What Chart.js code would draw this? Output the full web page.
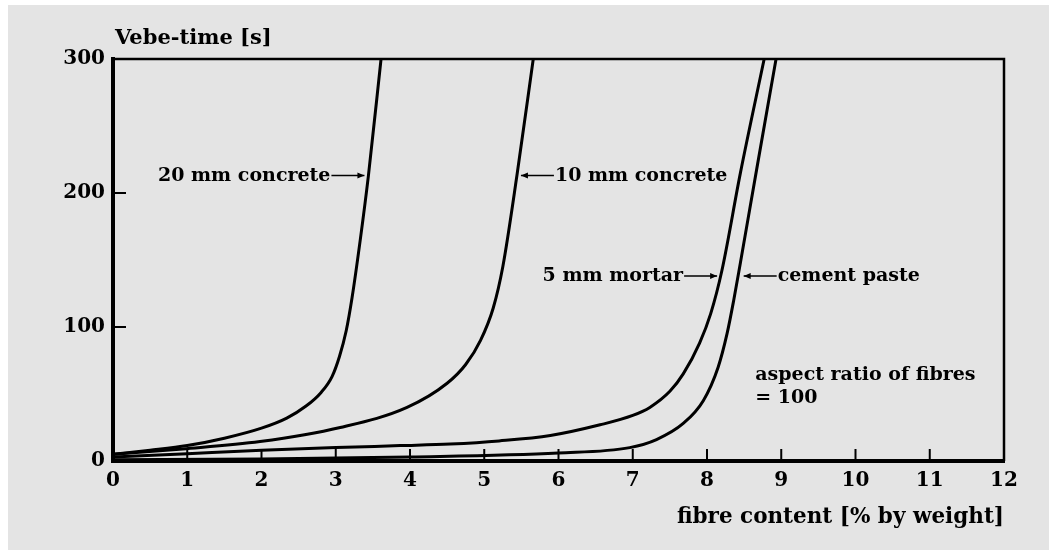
<!DOCTYPE html>
<html>
<head>
<meta charset="utf-8">
<script src="https://cdn.jsdelivr.net/npm/chart.js@4.4.0/dist/chart.umd.min.js"></script>
<style>
  body { margin: 0; background: #fff; }
  #vebe { position: absolute; left: 8px; top: 5px; background: #e4e4e4; }
</style>
</head>
<body>
<canvas id="vebe" width="1041" height="545"></canvas>
<script>
// Vebe-time against fibre content for four mixes
const xTicks = [0, 1, 2, 3, 4, 5, 6, 7, 8, 9, 10, 11, 12];
const yTicks = [0, 100, 200, 300];

const concrete20X = [0, 0.5, 1, 1.5, 2, 2.34, 2.6, 2.8, 2.95, 3.05, 3.14, 3.22, 3.33, 3.44, 3.61];
const concrete20Y = [5, 8, 11.5, 17, 24.5, 32, 41, 51, 63, 78, 97, 122, 165, 213, 300];

const concrete10X = [0, 0.94, 1.98, 3.06, 3.96, 4.5, 4.75, 4.95, 5.12, 5.25, 5.44, 5.66];
const concrete10Y = [5, 9, 14.5, 25, 40, 58, 72, 90, 114, 145, 213, 300];

const mortar5X = [0, 1, 2, 3, 3.87, 4.54, 5.2, 5.89, 6.56, 7.0, 7.23, 7.5, 7.68, 7.9, 8.05, 8.2, 8.45, 8.77];
const mortar5Y = [3, 5.5, 8, 10, 11.5, 12.7, 15, 19, 27, 34, 40, 52, 65, 88, 110, 142, 215, 300];

const pasteX = [0, 2, 4, 6, 6.96, 7.32, 7.68, 7.95, 8.15, 8.27, 8.36, 8.45, 8.67, 8.93];
const pasteY = [1, 1.5, 3, 6, 10, 16, 28, 45, 70, 95, 120, 148, 218, 300];

const seriesNames = ['20 mm concrete', '10 mm concrete', '5 mm mortar', 'cement paste'];

const FONT = "'DejaVu Serif', serif";

const toPoints = (xs, ys) => xs.map((x, i) => ({ x: x, y: ys[i] }));

// label text, point on the curve the arrow touches, side the text sits on
const callouts = [
  { text: seriesNames[0], at: [3.44, 213], side: 'left' },
  { text: seriesNames[1], at: [5.44, 213], side: 'right' },
  { text: seriesNames[2], at: [8.19, 138], side: 'left' },
  { text: seriesNames[3], at: [8.44, 138], side: 'right' }
];

const frame = {
  id: 'frame',
  afterDatasetsDraw(chart) {
    const { ctx, chartArea: a, scales: { x, y } } = chart;
    ctx.save();
    ctx.strokeStyle = '#000';
    ctx.lineWidth = 2.5;
    ctx.beginPath();
    ctx.moveTo(a.left, a.top);
    ctx.lineTo(a.right, a.top);
    ctx.lineTo(a.right, a.bottom);
    ctx.stroke();

    // inward tick marks
    ctx.lineWidth = 2;
    ctx.beginPath();
    yTicks.slice(1, -1).forEach(v => {
      const py = y.getPixelForValue(v);
      ctx.moveTo(a.left, py);
      ctx.lineTo(a.left + 13, py);
    });
    xTicks.slice(1, -1).forEach(v => {
      const px = x.getPixelForValue(v);
      ctx.moveTo(px, a.bottom);
      ctx.lineTo(px, a.bottom - 12);
    });
    ctx.stroke();

    // axis heading above the y axis
    ctx.fillStyle = '#000';
    ctx.font = 'bold 21px ' + FONT;
    ctx.textAlign = 'left';
    ctx.textBaseline = 'alphabetic';
    ctx.fillText('Vebe-time [s]', a.left + 2, a.top - 15);

    // curve labels with arrows
    ctx.font = 'bold 19px ' + FONT;
    ctx.textBaseline = 'middle';
    ctx.lineWidth = 1.5;
    callouts.forEach(c => {
      const tx = x.getPixelForValue(c.at[0]);
      const ty = y.getPixelForValue(c.at[1]);
      const dir = c.side === 'left' ? -1 : 1;
      const start = tx + dir * 4;
      const end = tx + dir * 37;
      ctx.beginPath();
      ctx.moveTo(start, ty);
      ctx.lineTo(end, ty);
      ctx.stroke();
      ctx.beginPath();
      ctx.moveTo(start, ty);
      ctx.lineTo(start + dir * 7, ty - 3);
      ctx.lineTo(start + dir * 7, ty + 3);
      ctx.closePath();
      ctx.fill();
      ctx.textAlign = c.side === 'left' ? 'right' : 'left';
      ctx.fillText(c.text, end + dir * 1, ty);
    });

    ctx.textAlign = 'left';
    ctx.fillText('aspect ratio of fibres', x.getPixelForValue(8.65), y.getPixelForValue(64));
    ctx.fillText('= 100', x.getPixelForValue(8.65), y.getPixelForValue(47));
    ctx.restore();
  }
};

const curve = (label, xs, ys) => ({
  label: label,
  data: toPoints(xs, ys),
  borderColor: '#000',
  borderWidth: 3,
  pointRadius: 0,
  fill: false,
  cubicInterpolationMode: 'monotone'
});

new Chart(document.getElementById('vebe'), {
  type: 'line',
  data: {
    datasets: [
      curve(seriesNames[0], concrete20X, concrete20Y),
      curve(seriesNames[1], concrete10X, concrete10Y),
      curve(seriesNames[2], mortar5X, mortar5Y),
      curve(seriesNames[3], pasteX, pasteY)
    ]
  },
  plugins: [frame],
  options: {
    responsive: false,
    animation: false,
    devicePixelRatio: 1,
    layout: { padding: { top: 54, right: 45, left: 0, bottom: 0 } },
    plugins: {
      legend: { display: false },
      tooltip: { enabled: false }
    },
    scales: {
      x: {
        type: 'linear',
        min: 0,
        max: 12,
        afterFit(scale) { scale.height = 89; },
        afterBuildTicks(scale) { scale.ticks = xTicks.map(v => ({ value: v })); },
        grid: { display: false, drawTicks: false },
        border: { color: '#000', width: 4 },
        ticks: {
          color: '#000',
          padding: 8,
          maxRotation: 0,
          font: { family: FONT, weight: 'bold', size: 20 }
        },
        title: {
          display: true,
          text: 'fibre content [% by weight]',
          align: 'end',
          color: '#000',
          padding: { top: 0, bottom: 20 },
          font: { family: FONT, weight: 'bold', size: 21.5 }
        }
      },
      y: {
        min: 0,
        max: 300,
        afterFit(scale) { scale.width = 105; },
        afterBuildTicks(scale) { scale.ticks = yTicks.map(v => ({ value: v })); },
        grid: { display: false, drawTicks: false },
        border: { color: '#000', width: 4 },
        ticks: {
          color: '#000',
          padding: 8,
          font: { family: FONT, weight: 'bold', size: 20 }
        }
      }
    }
  }
});
</script>
</body>
</html>
